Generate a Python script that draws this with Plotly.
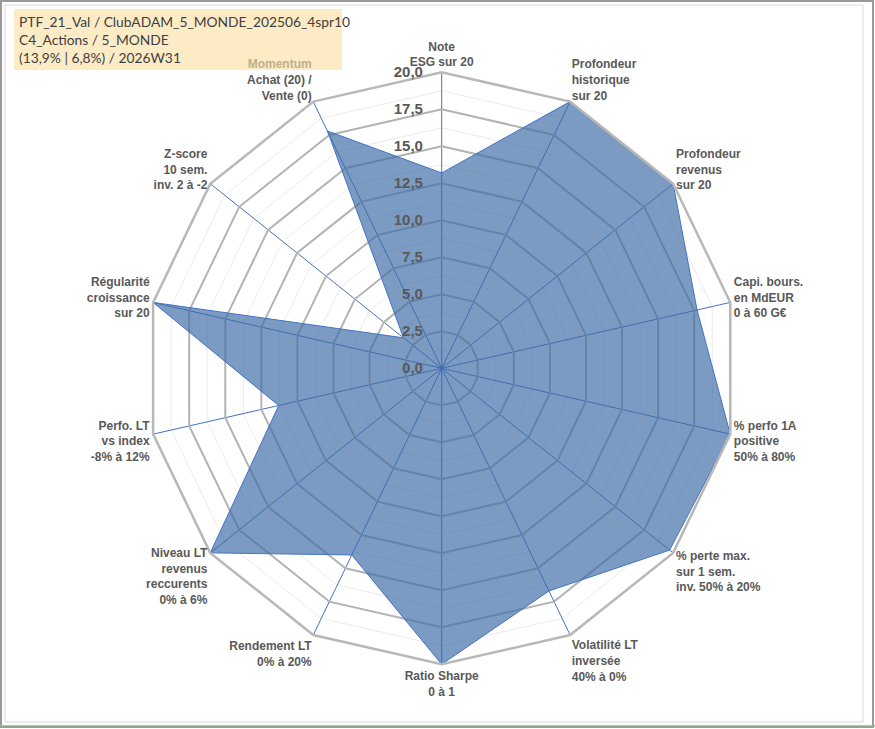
import plotly.graph_objects as go

categories = [
    "ESG", "ProfHist", "ProfRev", "Capi", "Perfo1A", "PerteMax", "Vol",
    "Sharpe", "Rendement", "NiveauRev", "PerfoIdx", "Regularite", "Zscore", "Momentum",
]
labels = [
    "Note<br>ESG sur 20",
    "Profondeur<br>historique<br>sur 20",
    "Profondeur<br>revenus<br>sur 20",
    "Capi. bours.<br>en MdEUR<br>0 à 60 G€",
    "% perfo 1A<br>positive<br>50% à 80%",
    "% perte max.<br>sur 1 sem.<br>inv. 50% à 20%",
    "Volatilité LT<br>inversée<br>40% à 0%",
    "Ratio Sharpe<br>0 à 1",
    "Rendement LT<br>0% à 20%",
    "Niveau LT<br>revenus<br>reccurents<br>0% à 6%",
    "Perfo. LT<br>vs index<br>-8% à 12%",
    "Régularité<br>croissance<br>sur 20",
    "Z-score<br>10 sem.<br>inv. 2 à -2",
    "<span style='color:#BFB08A'>Momentum</span><br>Achat (20) /<br>Vente (0)",
]
values = [13.2, 20, 20, 17.7, 20, 19.7, 16.7, 20, 14.0, 20, 11.3, 20, 3.3, 17.8]

major_ticks = [0, 2.5, 5, 7.5, 10, 12.5, 15, 17.5, 20]
minor_ticks = [1.25, 3.75, 6.25, 8.75, 11.25, 13.75, 16.25, 18.75]

title_lines = [
    "PTF_21_Val / ClubADAM_5_MONDE_202506_4spr10",
    "C4_Actions / 5_MONDE",
    "(13,9% | 6,8%) / 2026W31",
]

W, H = 875, 729
cx, cy, R = 441.7, 368.3, 296
dom_x = [(cx - R) / W, (cx + R) / W]
dom_y = [1 - (cy + R) / H, 1 - (cy - R) / H]

fig = go.Figure()

# minor grid subplot (below)
fig.add_trace(go.Scatterpolar(
    r=[0] * len(categories), theta=categories, mode="none",
    subplot="polar", hoverinfo="skip", showlegend=False,
))
# data subplot (above)
fig.add_trace(go.Scatterpolar(
    r=values + values[:1], theta=categories + categories[:1],
    mode="lines", fill="toself",
    fillcolor="rgba(60,108,165,0.68)",
    line=dict(color="#4472C4", width=1),
    subplot="polar2", showlegend=False,
))

common_ang = dict(
    type="category", categoryarray=categories, direction="clockwise",
    rotation=90, ticks="",
)

fig.update_layout(
    width=W, height=H,
    margin=dict(l=0, r=0, t=0, b=0),
    paper_bgcolor="white",
    separators=", ",
    polar=dict(
        domain=dict(x=dom_x, y=dom_y),
        gridshape="linear",
        bgcolor="white",
        radialaxis=dict(range=[0, 20], tickmode="array", tickvals=minor_ticks,
                        showticklabels=False, ticks="", showline=False,
                        gridcolor="#EBEBEB", gridwidth=1),
        angularaxis=dict(**common_ang, showgrid=False, showline=False,
                         showticklabels=False),
    ),
    polar2=dict(
        domain=dict(x=dom_x, y=dom_y),
        gridshape="linear",
        bgcolor="rgba(0,0,0,0)",
        radialaxis=dict(range=[0, 20], tickmode="array", tickvals=major_ticks,
                        tickformat=".1f", angle=90, tickangle=90,
                        side="counterclockwise", ticks="outside", ticklen=13,
                        tickcolor="rgba(0,0,0,0)", showline=False,
                        gridcolor="#B3B3B3", gridwidth=2,
                        tickfont=dict(family="Liberation Sans", size=15,
                                      color="#595959", weight="bold")),
        angularaxis=dict(**common_ang, showgrid=True, gridcolor="#4472C4",
                         gridwidth=1, showline=True, linecolor="#B8B8B8",
                         linewidth=2.5, tickmode="array", tickvals=categories,
                         ticktext=labels,
                         tickfont=dict(family="Liberation Sans", size=12,
                                       color="#595959", weight="bold")),
    ),
    annotations=[dict(
        xref="paper", yref="paper", x=17 / W, y=1 - 11 / H,
        xanchor="left", yanchor="top", align="left",
        showarrow=False,
        text="<br>".join(title_lines),
        font=dict(family="Lato", size=13.8, color="#404040"),
    )],
    shapes=[
        dict(type="rect", xref="paper", yref="paper", layer="below",
             x0=14 / W, x1=342 / W, y0=1 - 70 / H, y1=1 - 9 / H,
             fillcolor="#FDEBC6", line=dict(width=0)),
        dict(type="rect", xref="paper", yref="paper",
             x0=1 / W, x1=1 - 2 / W, y0=2 / H, y1=1 - 1 / H,
             line=dict(color="#9A9A9A", width=2)),
        dict(type="rect", xref="paper", yref="paper",
             x0=5 / W, x1=1 - 12 / W, y0=7 / H, y1=1 - 5 / H,
             line=dict(color="#D9D9D9", width=1)),
        dict(type="line", xref="paper", yref="paper",
             x0=0, x1=1, y0=3 / H, y1=3 / H,
             line=dict(color="#8DB38D", width=1.5)),
    ],
)

fig.write_html("out.html", config={"displayModeBar": False},
               post_script="document.body.style.margin='0';")
